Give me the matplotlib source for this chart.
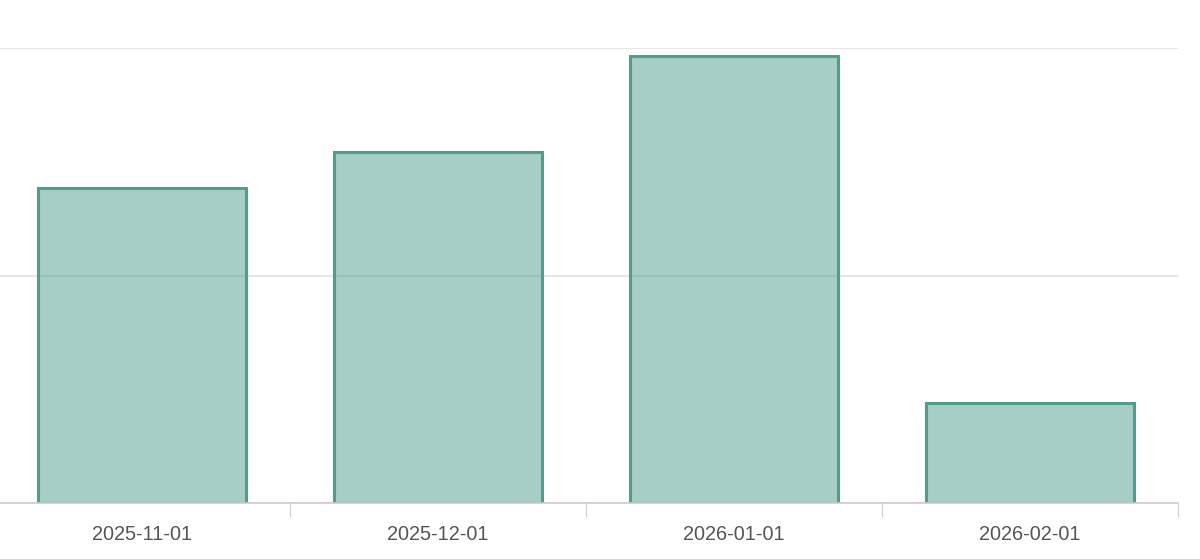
import matplotlib
matplotlib.use("Agg")
import matplotlib.pyplot as plt
import numpy as np

categories = ["2025-11-01", "2025-12-01", "2026-01-01", "2026-02-01"]
values = [69.2, 77.1, 98.2, 22.0]
y_ticks = [0, 50, 100]

plt.rcParams['font.family'] = ['Liberation Sans', 'DejaVu Sans']

W, H = 1200, 559
fig = plt.figure(figsize=(W / 100, H / 100), dpi=100)
left_px, right_px, top_px, bottom_px = -6, 1178, 48, 503
ax = fig.add_axes([left_px / W, 1 - bottom_px / H, (right_px - left_px) / W, (bottom_px - top_px) / H])

x = np.arange(len(categories))
color = "#4e9e8e"
ax.bar(x, values, width=0.705, facecolor=(0x4e/255, 0x9e/255, 0x8e/255, 0.5),
       edgecolor=color, linewidth=2.2, zorder=3)

ax.set_xlim(-0.5, len(categories) - 0.5)
ax.set_ylim(0, y_ticks[-1])
ax.set_yticks(y_ticks)
ax.yaxis.grid(True, color="#e0e0e0", linewidth=1.2, zorder=0)
ax.set_axisbelow(True)
ax.tick_params(axis='y', left=False, labelleft=False)

ax.set_xticks(x)
ax.set_xticklabels(categories, fontsize=14.3, color="#555555")
ax.tick_params(axis='x', which='major', length=0, pad=15.5)
ax.set_xticks(np.arange(-0.5, len(categories) + 0.5, 1), minor=True)
ax.tick_params(axis='x', which='minor', length=10, color="#d5d5d5", width=1)

for s in ["top", "right", "left"]:
    ax.spines[s].set_visible(False)
ax.spines["bottom"].set_color("#cccccc")
ax.spines["bottom"].set_linewidth(1.2)
ax.spines["bottom"].set_zorder(4)

fig.savefig("out.png", dpi=100)
